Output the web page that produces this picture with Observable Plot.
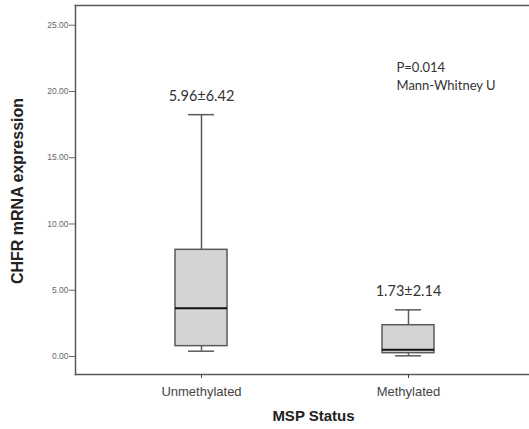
<!DOCTYPE html>
<html><head><meta charset="utf-8">
<script src="https://cdn.jsdelivr.net/npm/d3@7"></script>
<script src="https://cdn.jsdelivr.net/npm/@observablehq/plot@0.6"></script>
<style>body{margin:0;background:#fff}</style>
</head><body><div id="chart"></div>
<script>
const categories = ["Unmethylated", "Methylated"];
const whiskerLow = [0.40, 0.05];
const q1 = [0.78, 0.25];
const medians = [3.64, 0.50];
const q3 = [8.05, 2.36];
const whiskerHigh = [18.25, 3.52];
const meanSd = ["5.96±6.42", "1.73±2.14"];
const yTicks = [0, 5, 10, 15, 20, 25];
const yDomain = [-1.36, 26.49];
const statLines = ["P=0.014", "Mann-Whitney U"];
const statY = [21.8, 20.4];
const yTitle = "CHFR mRNA expression";
const xTitle = "MSP Status";

const boxes = categories.map((c, i) => ({cat: c, lo: whiskerLow[i], q1: q1[i], med: medians[i], q3: q3[i], hi: whiskerHigh[i], label: meanSd[i]}));
const stats = statLines.map((t, i) => ({cat: categories[1], y: statY[i], text: t}));

const line = "#5a5a5a";
const chart = Plot.plot({
  width: 529,
  height: 429,
  marginLeft: 75,
  marginRight: 0,
  marginTop: 5,
  marginBottom: 55,
  style: {fontFamily: "'Liberation Sans', Arial, sans-serif", background: "#fff"},
  x: {domain: categories, range: [97.5, 511.5], paddingInner: 0.749, paddingOuter: 0.3745},
  y: {domain: yDomain},
  marks: [
    Plot.frame({anchor: "top", stroke: line, strokeWidth: 1.5}),
    Plot.frame({anchor: "bottom", stroke: line, strokeWidth: 1.5}),
    Plot.frame({anchor: "left", stroke: line, strokeWidth: 1.5}),
    Plot.axisY(yTicks, {tickFormat: d => d.toFixed(2), tickSize: 6, tickPadding: 1, fontSize: 8.5, color: "#666", label: null}),
    Plot.axisX({tickSize: 4, tickPadding: 8, fontSize: 13, color: "#444", label: null}),
    Plot.text([yTitle], {frameAnchor: "left", textAnchor: "middle", rotate: -90, dx: -58, dy: 1, fontSize: 16, fontWeight: "bold", fill: "#222"}),
    Plot.text([xTitle], {frameAnchor: "bottom", textAnchor: "middle", dx: 11, dy: 46, fontSize: 15, fontWeight: "bold", fill: "#222"}),
    Plot.ruleX(boxes, {x: "cat", y1: "q3", y2: "hi", stroke: line, strokeWidth: 1.5}),
    Plot.ruleX(boxes, {x: "cat", y1: "lo", y2: "q1", stroke: line, strokeWidth: 1.5}),
    Plot.tickY(boxes, {x: "cat", y: "hi", inset: 13, stroke: line, strokeWidth: 1.5}),
    Plot.tickY(boxes, {x: "cat", y: "lo", inset: 13, stroke: line, strokeWidth: 1.5}),
    Plot.barY(boxes, {x: "cat", y1: "q1", y2: "q3", fill: "#d4d4d4", stroke: line, strokeWidth: 1.5}),
    Plot.tickY(boxes, {x: "cat", y: "med", stroke: "#111", strokeWidth: 2}),
    Plot.text(boxes, {x: "cat", y: "hi", text: "label", dy: -18, fontSize: 14.5, fontFamily: "Lato", fill: "#333"}),
    Plot.text(stats, {x: "cat", y: "y", text: "text", textAnchor: "start", dx: -12, fontSize: 13, fontFamily: "Lato", fill: "#333"})
  ]
});
document.getElementById("chart").append(chart);
</script>
</body></html>
